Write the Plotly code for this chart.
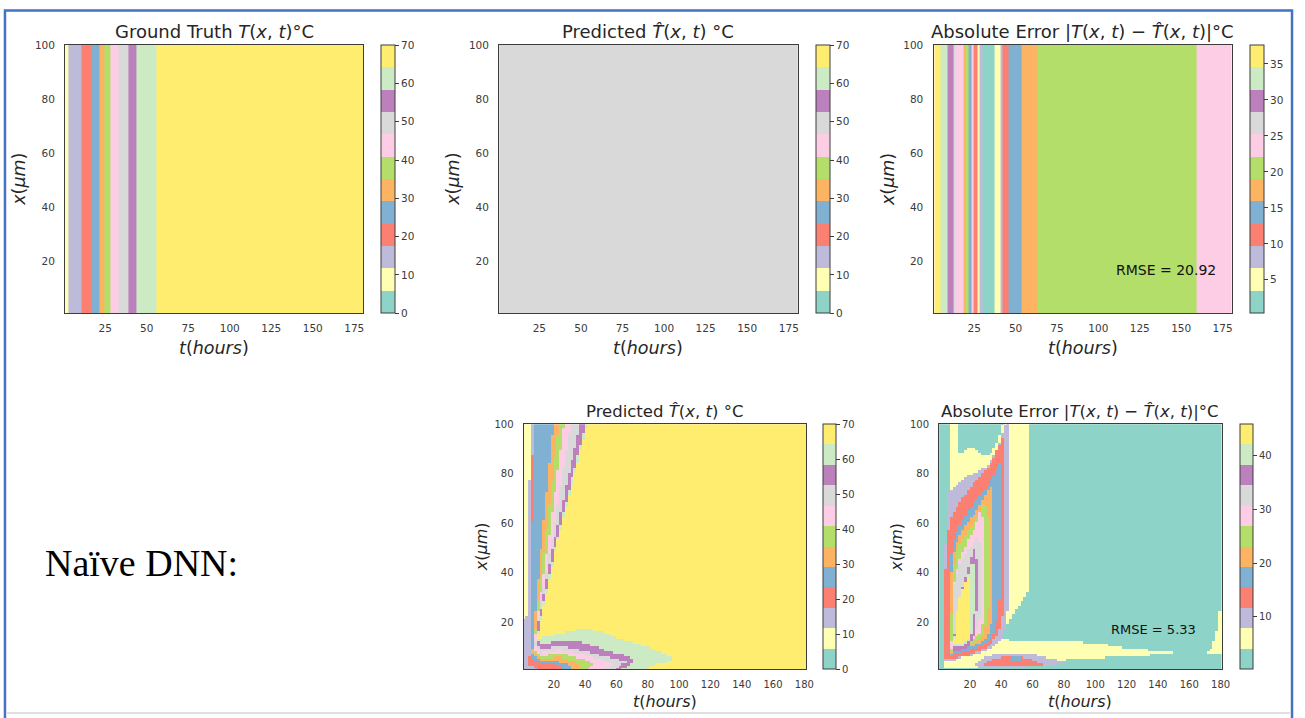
import numpy as np
import plotly.graph_objects as go

W, H = 1305, 718
SET3 = ["#8dd3c7", "#ffffb3", "#bebada", "#fb8072", "#80b1d3", "#fdb462",
        "#b3de69", "#fccde5", "#d9d9d9", "#bc80bd", "#ccebc5", "#ffed6f"]

# ---------------- Panel 1: ground truth T(t) (independent of x) ----------------
gt_t_edges = [1.0, 2.9, 10.8, 16.5, 21.4, 24.4, 28.4, 33.0, 38.8, 43.7, 55.7, 180.5]
gt_temp = [8.0, 14.5, 20.5, 26.0, 32.0, 38.0, 44.0, 49.5, 55.5, 61.0, 67.0]

# ---------------- Panel 2: constant prediction ----------------
pred_const_temp = 49.5

# ---------------- Panel 3: absolute error (depends on t only) ----------------
err_t_edges = [1.0, 4.4, 9.0, 12.4, 13.8, 18.8, 20.0, 21.8, 23.4, 24.4, 27.0, 28.4,
               30.0, 37.0, 40.6, 42.0, 45.4, 53.4, 63.4, 159.4, 180.5]
err_vals = [36.0, 32.9, 29.8, 26.7, 23.6, 17.4, 20.5, 14.3, 23.6, 11.2, 5.0, 8.1,
            1.9, 5.0, 8.1, 11.2, 14.3, 17.4, 20.5, 23.6]
rmse_top = "RMSE = 20.92"

# ---------------- Panel 4: Naive DNN prediction, region outlines (t, x) ----------------
dnn_grid_t = [1 + 1.8 * i for i in range(101)]
dnn_grid_x = list(range(1, 101))
dnn_pred_background = 67.0
dnn_pred_lgreen = [(0, 101), (41.8, 101), (22, 52), (11.5, 20), (9.6, 14), (12, 13.8), (23.6, 15.4),
                   (38.4, 17.7), (50, 16.5), (59.5, 14), (70, 12), (80.7, 10), (90, 7.5), (97.6, 5.3),
                   (92, 4), (82, 2.5), (75, -1), (0, -1)]
dnn_pred_purple = [(0, 101), (40.5, 101), (21.1, 51), (10.9, 20), (9, 13), (12, 11), (23.6, 12.7),
                   (38.4, 12.0), (51.1, 9.3), (65.9, 6.7), (71.2, 4.7), (68, 3), (60, -1), (0, -1)]
dnn_pred_gray = [(0, 101), (37.3, 101), (19.4, 51), (10, 20), (8.3, 11.5), (12, 9), (23.6, 10.7),
                 (38.4, 8.7), (55.3, 6.0), (65.9, 4.0), (62, 2), (55, -1), (0, -1)]
dnn_pred_pink = [(0, 101), (31, 101), (18.3, 51), (9.5, 20), (7.8, 10.5), (12, 7.8), (23.6, 9.3),
                 (38.4, 7.3), (50, 5), (58, 3), (54, 1.5), (48, -1), (0, -1)]
dnn_pred_green = [(0, 101), (26.8, 101), (16.2, 51), (9, 20), (7.3, 9.5), (12, 6.6), (23.6, 7.7),
                  (35, 6), (45, 3.5), (42, 1.5), (38, -1), (0, -1)]
dnn_pred_orange = [(0, 101), (23.6, 101), (14.1, 51), (8.5, 20), (6.8, 8.5), (12, 5.5), (23.6, 6.3),
                   (32, 4.5), (38, 2.5), (35, -1), (0, -1)]
dnn_pred_blue = [(0, 101), (19.8, 101), (12, 51), (7.5, 20), (6.2, 7.5), (12, 4.5), (20, 4.8),
                 (28, 3.2), (31, 1.5), (30, -1), (0, -1)]
dnn_pred_salmon = [(0, 101), (8.2, 101), (6, 51), (5.5, 20), (5.2, 6), (12, 3.5), (18, 3.5),
                   (24, 2.5), (27, -1), (0, -1)]
dnn_pred_lavender = [(0, 101), (6.7, 101), (5.6, 51), (5, 22), (4.5, 3), (8, 2), (12, -1), (0, -1)]
dnn_pred_lyellow = [(0, 101), (5.6, 101), (3.5, 51), (2.8, 22), (0, 22)]

# ---------------- Panel 5: Naive DNN absolute error, region outlines (t, x) ----------------
dnn_err_background = 2.1
dnn_err_lyellow = [(3.5, 1.5), (3.8, 30), (5, 60), (6.3, 72), (7.3, 78), (7.3, 101), (12.6, 101),
                   (12.6, 88), (16, 89), (20, 91), (24, 90), (28, 87), (33, 88), (38, 93), (41, 101),
                   (57, 101), (57, 33), (54, 29), (48, 24), (42.5, 18), (40, 14.7), (45, 12.7),
                   (77, 12.7), (106, 11.4), (121, 9.4), (144, 8.7), (152, 8.2), (140, 7.2),
                   (106, 6), (85, 5.3), (60, 3), (40, 1.5)]
dnn_err_lavender = [(4, 4), (4.2, 40), (5, 62), (6.3, 72), (12, 76), (18, 79), (26, 81), (32, 84),
                    (38, 91), (42, 99), (43.5, 101), (45.4, 101), (45.4, 40), (44, 22), (41, 14),
                    (35, 10), (25, 7.5), (15, 6), (8, 4.5)]
dnn_err_salmon = [(4.5, 5), (4.5, 40), (5.5, 55), (8, 62), (15, 70), (25, 78), (33, 84), (39, 92),
                  (42.3, 98), (42.3, 40), (41.5, 25), (38, 15), (30, 9.5), (20, 7), (10, 5.5)]
dnn_err_blue = [(6.5, 6.5), (7, 40), (9, 52), (14, 60), (22, 68), (30, 74), (36, 80), (39.5, 85),
                (39.5, 40), (38.5, 25), (35, 15), (28, 10.5), (18, 8.5), (10, 7)]
dnn_err_orange = [(7, 7.5), (8, 40), (11, 52), (16, 58), (23, 64), (29, 70), (33, 75), (35.2, 75),
                  (35.2, 40), (34.5, 22), (31, 14), (24, 11), (15, 9.5), (9, 8)]
dnn_err_green = [(7.5, 8.5), (9, 40), (12, 50), (17, 55), (23, 61), (28, 67), (30.5, 68), (32, 60),
                 (32, 40), (31.5, 22), (28, 14.5), (22, 11.5), (14, 10), (9, 9)]
dnn_err_pink = [(8, 9.5), (9.5, 35), (13, 45), (18, 52), (23, 58), (26.4, 64.7), (28.5, 62),
                (29.5, 50), (29.5, 40), (29, 22), (26, 15), (20, 12), (13, 10.5)]
dnn_err_gray = [(8.5, 10), (10, 35), (13.5, 43), (18, 48), (22, 52), (25, 55), (27.5, 50),
                (27.5, 40), (27, 24), (24, 16), (19, 12.5), (13, 11)]
dnn_err_purple = [(9, 9), (11, 22), (14, 32), (18, 40), (21, 47), (23, 50), (24.5, 45), (24.5, 25),
                  (22.5, 14), (18, 9.5), (12, 8.5)]
dnn_err_lgreen = [(9.5, 10.5), (11, 22), (14, 30), (18, 37), (21, 44), (22.8, 44), (23, 30),
                  (22.3, 18), (19, 12), (13, 10)]
dnn_err_yellow = [(9.8, 11.5), (11, 22), (13.5, 30), (16.5, 36), (19.5, 39), (20.8, 37), (20.8, 22),
                  (19.3, 14), (15, 11)]
dnn_err_low_lavender = [(22, 2.2), (30, 6.5), (45, 8), (60, 7.5), (75, 5), (83, 3.5), (70, 2.5),
                        (50, 1.8), (30, 1.6)]
dnn_err_low_salmon = [(28, 2.8), (35, 5.5), (45, 6.5), (55, 6), (64, 4), (66, 3), (50, 2.3), (35, 2.2)]
dnn_err_low_blue = [(44, 4.3), (47, 6.2), (52, 6.2), (53, 5), (48, 4.2)]
dnn_err_right_lyellow = [(170, 7.5), (174, 10), (177, 14), (178.5, 24.7), (182, 24.7), (182, 7.5)]
rmse_bottom = "RMSE = 5.33"

dnn_pred_layers = [(61.0, dnn_pred_lgreen), (55.5, dnn_pred_purple), (49.5, dnn_pred_gray),
                   (44.0, dnn_pred_pink), (38.0, dnn_pred_green), (32.0, dnn_pred_orange),
                   (26.0, dnn_pred_blue), (20.5, dnn_pred_salmon), (14.5, dnn_pred_lavender),
                   (8.0, dnn_pred_lyellow)]
dnn_err_layers = [(5.9, dnn_err_lyellow), (9.7, dnn_err_lavender), (13.5, dnn_err_salmon),
                  (17.3, dnn_err_blue), (21.1, dnn_err_orange), (24.9, dnn_err_green),
                  (28.8, dnn_err_pink), (32.6, dnn_err_gray), (36.4, dnn_err_purple),
                  (40.2, dnn_err_lgreen), (44.0, dnn_err_yellow), (9.7, dnn_err_low_lavender),
                  (13.5, dnn_err_low_salmon), (17.3, dnn_err_low_blue), (5.9, dnn_err_right_lyellow)]


def inside(poly, T, X):
    pts = np.asarray(poly, dtype=float)
    res = np.zeros(T.shape, dtype=bool)
    n = len(pts)
    for i in range(n):
        t1, x1 = pts[i]
        t2, x2 = pts[(i + 1) % n]
        if x1 == x2:
            continue
        cond = ((x1 > X) != (x2 > X)) & (T < (t2 - t1) * (X - x1) / (x2 - x1) + t1)
        res ^= cond
    return res


def paint(tc, xc, background, layers):
    T, X = np.meshgrid(np.asarray(tc, float), np.asarray(xc, float))
    Z = np.full(T.shape, float(background))
    for val, poly in layers:
        Z[inside(poly, T, X)] = val
    return Z


def discrete_scale(colors):
    n = len(colors)
    cs = []
    for k, c in enumerate(colors):
        cs.append([k / n, c])
        cs.append([(k + 1) / n, c])
    return cs


CS = discrete_scale(SET3)
TXT = "#3a3a3a"
FONT = "DejaVu Sans"


def px_x(p):
    return p / W


def px_y(p):
    return 1 - p / H


# panel pixel boxes: (left, right, top, bottom, cb_left, cb_thick)
boxes = {
    1: (65.7, 365.7, 39.3, 310.0, 384.0, 14),
    2: (502.7, 803.3, 39.3, 310.0, 821.7, 14),
    3: (940.0, 1240.7, 39.3, 310.0, 1259.0, 13.5),
    4: (527.3, 811.7, 421.7, 669.0, 829.0, 12.5),
    5: (945.7, 1230.0, 421.7, 669.0, 1248.3, 12.5),
}


def colorbar(k, tickvals, fs):
    l, r, t, b, cbx, th = boxes[k]
    return dict(x=px_x(cbx), xanchor="left", xref="paper", xpad=0,
                y=(px_y(t) + px_y(b)) / 2, yanchor="middle", ypad=0,
                len=(b - t) / H, lenmode="fraction", thickness=th,
                outlinewidth=1, outlinecolor="#3c3c3c",
                tickvals=tickvals, ticks="outside", ticklen=4, tickcolor="#3c3c3c",
                tickfont=dict(size=fs, color=TXT, family=FONT))


fig = go.Figure()

fig.add_trace(go.Heatmap(x=gt_t_edges, y=[0, 101], z=[gt_temp], colorscale=CS, zmin=0, zmax=70,
                         xaxis="x", yaxis="y", colorbar=colorbar(1, [0, 10, 20, 30, 40, 50, 60, 70], 10.5)))
fig.add_trace(go.Heatmap(x=[0.5, 181], y=[0, 101], z=[[pred_const_temp]], colorscale=CS, zmin=0, zmax=70,
                         xaxis="x2", yaxis="y2", colorbar=colorbar(2, [0, 10, 20, 30, 40, 50, 60, 70], 10.5)))
fig.add_trace(go.Heatmap(x=err_t_edges, y=[0, 101], z=[err_vals], colorscale=CS, zmin=0.36, zmax=37.6,
                         xaxis="x3", yaxis="y3", colorbar=colorbar(3, [5, 10, 15, 20, 25, 30, 35], 10.5)))
Z4 = paint(dnn_grid_t, dnn_grid_x, dnn_pred_background, dnn_pred_layers)
fig.add_trace(go.Heatmap(x=dnn_grid_t, y=dnn_grid_x, z=Z4, colorscale=CS, zmin=0, zmax=70,
                         xaxis="x4", yaxis="y4", colorbar=colorbar(4, [0, 10, 20, 30, 40, 50, 60, 70], 10)))
Z5 = paint(dnn_grid_t, dnn_grid_x, dnn_err_background, dnn_err_layers)
fig.add_trace(go.Heatmap(x=dnn_grid_t, y=dnn_grid_x, z=Z5, colorscale=CS, zmin=0.17, zmax=45.9,
                         xaxis="x5", yaxis="y5", colorbar=colorbar(5, [10, 20, 30, 40], 10)))


def axes(k, xr, yr, xt, fs):
    l, r, t, b, _, _ = boxes[k]
    common = dict(showline=True, mirror=True, linecolor="#3c3c3c", linewidth=1.3, showgrid=False,
                  zeroline=False, ticks="outside", tickcolor="rgba(0,0,0,0)",
                  tickfont=dict(size=fs, color=TXT, family=FONT))
    sx = "" if k == 1 else str(k)
    xa = dict(domain=[px_x(l), px_x(r)], range=xr, tickvals=xt, anchor="y" + sx, ticklen=5, **common)
    ya = dict(domain=[px_y(b), px_y(t)], range=yr, tickvals=[20, 40, 60, 80, 100], anchor="x" + sx,
              ticklen=7, **common)
    return {"xaxis" + sx: xa, "yaxis" + sx: ya}


lay = {}
top_ticks = [25, 50, 75, 100, 125, 150, 175]
bot_ticks = [20, 40, 60, 80, 100, 120, 140, 160, 180]
lay.update(axes(1, [0.9, 180.4], [0.85, 100], top_ticks, 10.5))
lay.update(axes(2, [0.9, 180.4], [0.85, 100], top_ticks, 10.5))
lay.update(axes(3, [0.4, 180.8], [0.85, 100], top_ticks, 10.5))
lay.update(axes(4, [0.76, 181.1], [1.1, 100], bot_ticks, 10))
lay.update(axes(5, [0.4, 180.6], [1.1, 100], bot_ticks, 10))

ann = []


def text(x, y, s, size, color=TXT, family=FONT, angle=0):
    ann.append(dict(x=px_x(x), y=px_y(y), xref="paper", yref="paper", text=s, showarrow=False,
                    xanchor="center", yanchor="middle", textangle=angle,
                    font=dict(size=size, color=color, family=family)))


title_gt = "Ground Truth <i>T</i>(<i>x</i>, <i>t</i>)°C"
title_pred = "Predicted <i>T\u0302</i>(<i>x</i>, <i>t</i>) °C"
title_err = "Absolute Error |<i>T</i>(<i>x</i>, <i>t</i>) \u2212 <i>T\u0302</i>(<i>x</i>, <i>t</i>)|°C"
xlab = "<i>t</i>(<i>hours</i>)"
ylab = "<i>x</i>(<i>μm</i>)"

for k, ttl in [(1, title_gt), (2, title_pred), (3, title_err)]:
    l, r, t, b, _, _ = boxes[k]
    text((l + r) / 2, 25.5, ttl, 18, color="#262626")
    text((l + r) / 2, 345, xlab, 17.5, color="#262626")
    text(l - 46, (t + b) / 2, ylab, 17.5, color="#262626", angle=-90)
for k, ttl in [(4, title_pred), (5, title_err)]:
    l, r, t, b, _, _ = boxes[k]
    text((l + r) / 2, 409, ttl, 16.5, color="#262626")
    text((l + r) / 2, 701, xlab, 16, color="#262626")
    text(l - 42.5, (t + b) / 2, ylab, 16, color="#262626", angle=-90)

text(1174, 266, rmse_top, 14, color="#111111")
text(1162, 629, rmse_bottom, 13, color="#111111")
text(142, 562, "Naïve DNN:", 38, color="#000000", family="Liberation Serif")

shapes = [
    dict(type="rect", xref="paper", yref="paper", x0=px_x(5), x1=px_x(1301), y0=-0.05, y1=px_y(4.5),
         line=dict(color="#4472c4", width=2.5), fillcolor="rgba(0,0,0,0)", layer="above"),
    dict(type="line", xref="paper", yref="paper", x0=px_x(7), x1=px_x(1299), y0=px_y(713), y1=px_y(713),
         line=dict(color="#d6d6d6", width=1.5), layer="below"),
]

fig.update_layout(width=W, height=H, margin=dict(l=0, r=0, t=0, b=0), paper_bgcolor="white",
                  plot_bgcolor="white", showlegend=False, annotations=ann, shapes=shapes,
                  font=dict(family=FONT), **lay)

fig.write_html("out.html")
